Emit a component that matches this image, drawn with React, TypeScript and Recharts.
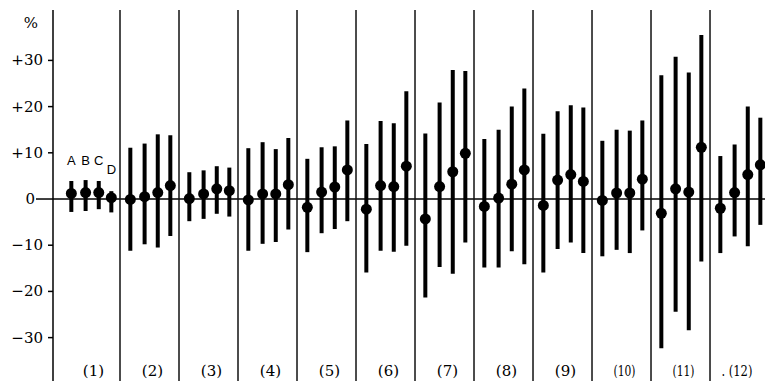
import { ComposedChart, Scatter, ErrorBar, XAxis, YAxis, ReferenceLine, ReferenceDot } from "recharts";

// group labels along the bottom
const groupLabels = ["(1)", "(2)", "(3)", "(4)", "(5)", "(6)", "(7)", "(8)", "(9)", "(10)", "(11)", ". (12)"];
const seriesNames = ["A", "B", "C", "D"];
const yTicks = [-30, -20, -10, 0, 10, 20, 30];

// mean (dot) and range (bar ends) per group, in %
const meanA = [1.2, -0.1, 0.1, -0.2, -1.8, -2.2, -4.3, -1.6, -1.4, -0.3, -3.1, -2.0];
const lowA = [-2.8, -11.2, -4.8, -11.2, -11.5, -15.9, -21.3, -14.8, -15.9, -12.4, -32.3, -11.7];
const highA = [3.9, 11.1, 5.8, 11.0, 8.7, 11.9, 14.2, 13.0, 14.1, 12.6, 26.8, 9.3];

const meanB = [1.4, 0.5, 1.1, 1.1, 1.5, 2.9, 2.7, 0.2, 4.1, 1.3, 2.2, 1.4];
const lowB = [-2.6, -9.8, -4.3, -9.7, -7.4, -11.2, -14.7, -14.8, -10.8, -11.0, -24.4, -8.1];
const highB = [4.1, 12.0, 6.2, 12.3, 11.2, 16.9, 20.9, 15.0, 19.0, 15.0, 30.8, 11.8];

const meanC = [1.4, 1.4, 2.2, 1.1, 2.6, 2.7, 5.9, 3.2, 5.3, 1.3, 1.5, 5.3];
const lowC = [-2.2, -10.5, -3.2, -9.3, -6.5, -11.4, -16.2, -11.3, -9.4, -11.7, -28.4, -10.2];
const highC = [3.9, 14.0, 7.1, 10.8, 11.4, 16.4, 27.9, 20.0, 20.3, 14.8, 27.4, 20.0];

const meanD = [0.3, 2.9, 1.8, 3.1, 6.3, 7.1, 9.9, 6.3, 3.8, 4.3, 11.2, 7.4];
const lowD = [-2.9, -8.0, -3.8, -6.6, -4.8, -10.1, -9.4, -14.1, -11.7, -6.8, -13.5, -5.6];
const highD = [1.7, 13.8, 6.8, 13.2, 17.0, 23.3, 27.7, 23.9, 19.8, 17.0, 35.5, 17.6];

// where A..D sit inside a group (fraction of group width)
const slot = [0.175, 0.417, 0.64, 0.853];

const serif = "'DejaVu Serif', serif";

const series = [
  { mean: meanA, low: lowA, high: highA },
  { mean: meanB, low: lowB, high: highB },
  { mean: meanC, low: lowC, high: highC },
  { mean: meanD, low: lowD, high: highD },
].map((s, si) =>
  s.mean.map((m, g) => ({
    x: g + slot[si],
    y: m,
    err: [m - s.low[g], s.high[g] - m],
  }))
);

const fmt = (v: number) => (v > 0 ? `+${v}` : v < 0 ? `\u2212${-v}` : "0");

const YTick = (props: any) => {
  const { x, y, payload } = props;
  const zero = payload.value === 0;
  return (
    <g>
      <line x1={zero ? x - 17 : x - 5} x2={x} y1={y} y2={y} stroke="#000" strokeWidth={1.5} />
      <text x={zero ? x - 18 : x - 10} y={y} dy={5} textAnchor="end" fontFamily={serif} fontSize={15} fill="#000">
        {fmt(payload.value)}
      </text>
    </g>
  );
};

// labels sit inside the plot, just above its bottom edge; two-digit ones are set narrow
const XTick = (props: any) => {
  const { x, y, payload } = props;
  const label = groupLabels[Math.floor(payload.value)];
  const last = label.length > 4;
  const narrow = label.length > 3 ? { textLength: last ? 31 : 22, lengthAdjust: "spacingAndGlyphs" } : {};
  return (
    <text
      x={last ? x + 10 : x}
      y={y - 5}
      textAnchor={last ? "end" : "middle"}
      fontFamily={serif}
      fontSize={15}
      fill="#000"
      {...narrow}
    >
      {label}
    </text>
  );
};

const Dot = (props: any) => <circle cx={props.cx} cy={props.cy} r={5.5} fill="#000" />;

export default function App() {
  return (
    <div style={{ position: "absolute", left: 0, top: 0, background: "#fff" }}>
      <ComposedChart width={765} height={381} margin={{ top: 10, right: 0, bottom: -30, left: 0 }}>
        <XAxis
          type="number"
          dataKey="x"
          domain={[-0.1356, 11.932]}
          allowDataOverflow
          ticks={groupLabels.map((_, i) => i + 0.55)}
          interval={0}
          height={30}
          axisLine={false}
          tickLine={false}
          tickSize={0}
          tickMargin={0}
          tick={<XTick />}
        />
        <YAxis
          type="number"
          dataKey="y"
          width={53}
          domain={[-39.39, 40.91]}
          allowDataOverflow
          ticks={yTicks}
          interval={0}
          axisLine={{ stroke: "#000", strokeWidth: 1.5 }}
          tickLine={false}
          tickSize={0}
          tickMargin={0}
          tick={<YTick />}
          label={{
            value: "%",
            content: (p: any) => (
              <text x={p.viewBox.x + p.viewBox.width - 22} y={p.viewBox.y + 18} textAnchor="middle" fontFamily={serif} fontSize={15} fill="#000">
                %
              </text>
            ),
          }}
        />
        <ReferenceLine y={0} stroke="#000" strokeWidth={1.5} />
        {groupLabels.slice(1).map((_, i) => (
          <ReferenceLine key={i} x={i + 1} stroke="#111" strokeWidth={1.5} />
        ))}
        {series.map((pts, si) => (
          <Scatter key={si} name={seriesNames[si]} data={pts} dataKey="y" shape={<Dot />} isAnimationActive={false}>
            <ErrorBar dataKey="err" direction="y" width={0} stroke="#000" strokeWidth={4} isAnimationActive={false} />
          </Scatter>
        ))}
        {seriesNames.map((n, si) => (
          <ReferenceDot
            key={n}
            x={series[si][0].x}
            y={si === 3 ? 6.4 : 8.4}
            r={0}
            fill="none"
            stroke="none"
            label={{ value: n, position: "center", fontFamily: "'Liberation Sans', sans-serif", fontSize: 13, fill: "#000" }}
          />
        ))}
      </ComposedChart>
    </div>
  );
}
